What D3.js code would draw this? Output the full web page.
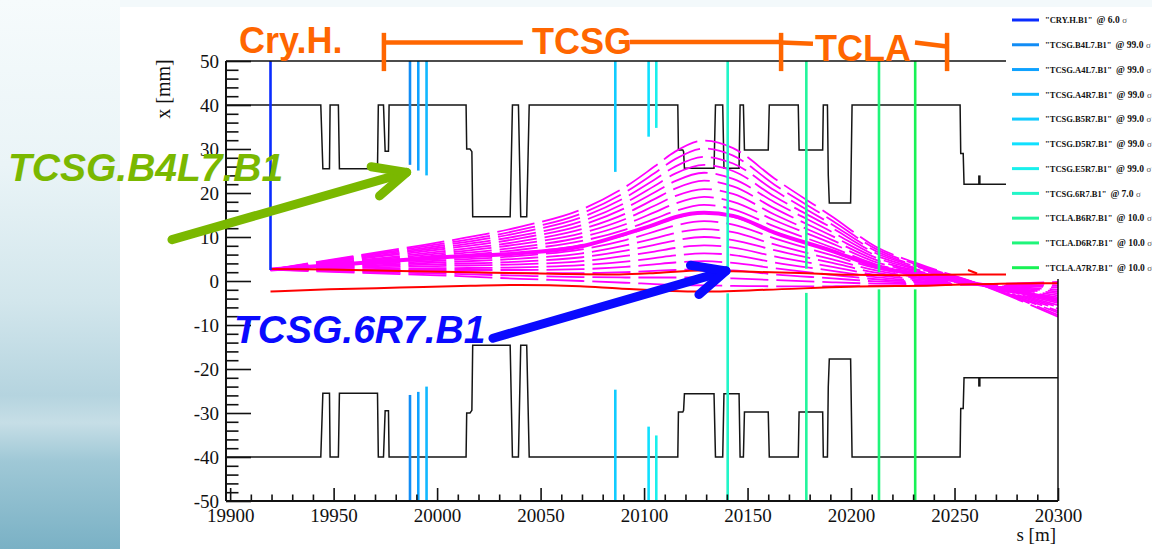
<!DOCTYPE html>
<html>
<head>
<meta charset="utf-8">
<script src="https://cdn.jsdelivr.net/npm/d3@7/dist/d3.min.js"></script>
<style>
  html, body { margin: 0; padding: 0; background: #ffffff; }
  svg { display: block; }
</style>
</head>
<body>
<svg id="chart" width="1152" height="549"></svg>
<script>
// ---------------- Mechanical aperture (half gap in mm) along s [m] ----------------
const apertureS = [19898, 19943.8, 19944.8, 19948.0, 19948.3, 19952.3, 19952.8, 19971.2, 19971.6, 19974.1,
  19974.9, 19976.5, 19976.8, 20014.0, 20014.3, 20015.9, 20016.8, 20017.2, 20035.3, 20036.4,
  20039.3, 20040.4, 20043.3, 20044.5, 20116.3, 20116.6, 20118.7, 20119.1, 20119.5, 20133.8,
  20134.5, 20138.0, 20138.6, 20145.9, 20146.4, 20148.0, 20148.5, 20160.0, 20160.5, 20174.5,
  20174.9, 20186.3, 20186.6, 20188.6, 20189.0, 20189.5, 20199.8, 20200.5, 20252.7, 20253.0,
  20254.2, 20254.6, 20300];
const apertureHalfGap = [40, 40, 25.5, 25.5, 40, 40, 25.5, 25.5, 40, 40,
  29.5, 29.5, 40, 40, 30, 30, 29.4, 14.6, 14.6, 40,
  40, 14.6, 14.6, 40, 40, 29.8, 29.8, 29.4, 25.6, 25.6,
  40, 40, 25.6, 25.6, 40, 40, 29.8, 29.8, 40, 40,
  29.8, 29.8, 40, 40, 24.1, 17.7, 17.7, 40, 40, 29.0,
  29.0, 22.0, 22.0];
const apertureSpike = [20262.0, 22.0, 24.0]; // s, base, tip

// ---------------- Collimators (legend order) ----------------
const collNames = ["CRY.H.B1", "TCSG.B4L7.B1", "TCSG.A4L7.B1", "TCSG.A4R7.B1", "TCSG.B5R7.B1",
  "TCSG.D5R7.B1", "TCSG.E5R7.B1", "TCSG.6R7.B1", "TCLA.B6R7.B1", "TCLA.D6R7.B1", "TCLA.A7R7.B1"];
const collSettings = ["6.0", "99.0", "99.0", "99.0", "99.0", "99.0", "99.0", "7.0", "10.0", "10.0", "10.0"];
const collS = [19919.5, 19986.9, 19990.9, 19994.9, 20086.1, 20102.2, 20105.9, 20140.4, 20178.4, 20213.5, 20231.0];
const collJawUp = [2.5, 26.4, 25.1, 24.0, 24.8, 32.8, 34.8, 2.9, 2.8, 2.0, 2.0];
const collJawDown = [null, -25.9, -25.2, -24.0, -24.7, -33.1, -35.1, -2.8, -2.7, -1.9, -1.9];
const collColors = ["#0a2cff", "#118cf5", "#0fa2ff", "#10b8ff", "#11ccff", "#10e0ff",
  "#19f0ec", "#22f5c8", "#22f59c", "#1ff57a", "#18f255"];

// ---------------- Trajectories leaving the crystal ----------------
const trackS = [19919.5, 19960, 20000, 20040, 20070, 20091, 20105, 20115, 20129, 20143, 20163, 20191, 20212, 20232, 20260, 20300];
const tracks = [
  [2.6, 1.9, 1.3, 0.5, 0.0, -0.4, -0.7, -0.9, -1.0, -1.1, -1.2, -1.2, -1.1, -1.0, -0.8, -0.2],
  [2.6, 2.1, 1.7, 1.2, 0.9, 0.8, 0.8, 0.8, 0.8, 0.6, 0.2, -0.3, -0.6, -0.7, -0.8, -0.6],
  [2.6, 2.3, 2.1, 1.8, 1.8, 2.0, 2.3, 2.5, 2.7, 2.4, 1.5, 0.6, -0.1, -0.4, -0.8, -1.1],
  [2.6, 2.5, 2.5, 2.5, 2.7, 3.2, 3.8, 4.2, 4.5, 4.1, 2.9, 1.4, 0.4, -0.2, -0.7, -1.5],
  [2.6, 2.7, 2.9, 3.1, 3.6, 4.4, 5.2, 5.8, 6.3, 5.9, 4.2, 2.3, 0.9, 0.1, -0.7, -2.0],
  [2.6, 3.0, 3.4, 3.8, 4.5, 5.7, 6.7, 7.5, 8.1, 7.6, 5.6, 3.2, 1.4, 0.4, -0.7, -2.4],
  [2.6, 3.2, 3.8, 4.4, 5.4, 6.9, 8.2, 9.2, 10.0, 9.3, 7.0, 4.1, 1.9, 0.7, -0.7, -2.8],
  [2.6, 3.4, 4.2, 5.1, 6.3, 8.1, 9.7, 10.9, 11.8, 11.1, 8.3, 4.9, 2.4, 0.9, -0.6, -3.3],
  [2.6, 3.6, 4.6, 5.7, 7.2, 9.3, 11.2, 12.6, 13.6, 12.8, 9.7, 5.8, 2.9, 1.2, -0.6, -3.7],
  [2.6, 3.8, 5.0, 6.4, 8.2, 10.5, 12.7, 14.3, 15.5, 14.6, 11.1, 6.7, 3.4, 1.5, -0.6, -4.2],
  [2.6, 4.0, 5.4, 7.1, 9.1, 11.7, 14.1, 15.9, 17.3, 16.3, 12.4, 7.6, 3.8, 1.8, -0.6, -4.6],
  [2.6, 4.2, 5.8, 7.7, 10.0, 12.9, 15.6, 17.6, 19.1, 18.0, 13.8, 8.5, 4.3, 2.1, -0.6, -5.0],
  [2.6, 4.4, 6.2, 8.4, 10.9, 14.1, 17.1, 19.3, 20.9, 19.8, 15.1, 9.3, 4.8, 2.3, -0.5, -5.5],
  [2.6, 4.6, 6.6, 9.0, 11.8, 15.3, 18.6, 21.0, 22.8, 21.5, 16.5, 10.2, 5.3, 2.6, -0.5, -5.9],
  [2.6, 4.9, 7.1, 9.7, 12.7, 16.6, 20.1, 22.7, 24.6, 23.2, 17.9, 11.1, 5.8, 2.9, -0.5, -6.3],
  [2.6, 5.1, 7.5, 10.3, 13.6, 17.8, 21.6, 24.4, 26.4, 25.0, 19.2, 12.0, 6.3, 3.2, -0.5, -6.8],
  [2.6, 5.3, 7.9, 11.0, 14.5, 19.0, 23.0, 26.0, 28.2, 26.7, 20.6, 12.8, 6.8, 3.4, -0.4, -7.2],
  [2.6, 5.5, 8.3, 11.6, 15.4, 20.2, 24.5, 27.7, 30.1, 28.5, 21.9, 13.7, 7.3, 3.7, -0.4, -7.7],
  [2.6, 5.7, 8.7, 12.3, 16.3, 21.4, 26.0, 29.4, 31.9, 30.2, 23.3, 14.6, 7.8, 4.0, -0.4, -8.1]
];
const centralTrack = [2.6, 4.0, 5.3, 6.3, 7.9, 10.7, 12.8, 14.5, 15.5, 14.8, 11.0, 6.8, 3.3, 1.5, -0.6, -4.3];

// ---------------- Beam envelope ----------------
const envUpS = [19919.5, 19948, 19982, 20016, 20050, 20088, 20108, 20127, 20143, 20175, 20199, 20224, 20256, 20275];
const envUpX = [2.7, 2.6, 2.3, 2.0, 1.7, 1.5, 1.9, 2.4, 2.2, 1.8, 1.4, 1.3, 1.5, 1.5];
const envLowS = [19919.5, 19948, 19982, 20016, 20040, 20069, 20088, 20127, 20159, 20199, 20240, 20272, 20300];
const envLowX = [-2.4, -1.9, -1.5, -1.1, -0.9, -1.2, -1.7, -2.4, -2.0, -1.3, -1.0, -0.6, -0.5];
const envKinkS = [20256.5, 20260.9];
const envKinkX = [2.5, 1.7];

// ---------------- Axis tick labels ----------------
const sTickLabels = [19900, 19950, 20000, 20050, 20100, 20150, 20200, 20250, 20300];
const xTickLabels = [-50, -40, -30, -20, -10, 0, 10, 20, 30, 40, 50];

// ---------------- Drawing ----------------
const SERIF = "'Liberation Serif', 'Times New Roman', serif";
const SANS = "'Liberation Sans', Arial, sans-serif";
const svg = d3.select("#chart");
const defs = svg.append("defs");

const grad = defs.append("linearGradient").attr("id", "sideGrad")
  .attr("x1", 0).attr("y1", 0).attr("x2", 0).attr("y2", 1);
[[0, "#f6fbfc"], [0.3, "#eaf4f7"], [0.55, "#d2e6ec"], [0.72, "#b5d4df"], [0.77, "#c6dee6"],
 [0.84, "#9fc8d6"], [1, "#7ab1c5"]].forEach(([o, c]) =>
  grad.append("stop").attr("offset", o).attr("stop-color", c));

svg.append("rect").attr("width", 1152).attr("height", 549).attr("fill", "#f3f9fb");
svg.append("rect").attr("x", 0).attr("y", 0).attr("width", 120).attr("height", 549).attr("fill", "url(#sideGrad)");
svg.append("rect").attr("x", 120).attr("y", 7).attr("width", 1032).attr("height", 542).attr("fill", "#ffffff");

const xS = d3.scaleLinear().domain([19898, 20300]).range([226, 1058]);
const yX = d3.scaleLinear().domain([-50, 50]).range([501, 61]);

defs.append("clipPath").attr("id", "frameClip").append("rect")
  .attr("x", xS(19898)).attr("y", yX(50)).attr("width", xS(20300) - xS(19898)).attr("height", yX(-50) - yX(50));

const plot = svg.append("g").attr("clip-path", "url(#frameClip)");
const straight = d3.line().x(d => xS(d[0])).y(d => yX(d[1]));
const smooth = d3.line().curve(d3.curveMonotoneX).x(d => xS(d[0])).y(d => yX(d[1]));

// aperture, upper and lower
const apUpper = apertureS.map((s, i) => [s, apertureHalfGap[i]]);
const apLower = apertureS.map((s, i) => [s, -apertureHalfGap[i]]);
[apUpper, apLower].forEach(pts => plot.append("path").attr("d", straight(pts))
  .attr("fill", "none").attr("stroke", "#151515").attr("stroke-width", 1.5));
[1, -1].forEach(sg => plot.append("line")
  .attr("x1", xS(apertureSpike[0])).attr("x2", xS(apertureSpike[0]))
  .attr("y1", yX(sg * apertureSpike[1])).attr("y2", yX(sg * apertureSpike[2]))
  .attr("stroke", "#151515").attr("stroke-width", 2.5));

// fan of dashed trajectories
tracks.forEach(t => plot.append("path")
  .attr("d", smooth(t.map((v, i) => [trackS[i], v])))
  .attr("fill", "none").attr("stroke", "#ff00ff").attr("stroke-width", 1.8)
  .attr("stroke-dasharray", "38,8"));
plot.append("path").attr("d", smooth(centralTrack.map((v, i) => [trackS[i], v])))
  .attr("fill", "none").attr("stroke", "#ff00ff").attr("stroke-width", 4);

// beam envelope
plot.append("path").attr("d", smooth(envUpS.map((s, i) => [s, envUpX[i]])))
  .attr("fill", "none").attr("stroke", "#ff0000").attr("stroke-width", 2);
plot.append("path").attr("d", smooth(envLowS.map((s, i) => [s, envLowX[i]])))
  .attr("fill", "none").attr("stroke", "#ff0000").attr("stroke-width", 2);
plot.append("path").attr("d", straight(envKinkS.map((s, i) => [s, envKinkX[i]])))
  .attr("fill", "none").attr("stroke", "#ff0000").attr("stroke-width", 2);

// collimator jaws
collS.forEach((s, i) => {
  plot.append("line").attr("x1", xS(s)).attr("x2", xS(s)).attr("y1", yX(50)).attr("y2", yX(collJawUp[i]))
    .attr("stroke", collColors[i]).attr("stroke-width", 2.6);
  if (collJawDown[i] !== null) {
    plot.append("line").attr("x1", xS(s)).attr("x2", xS(s)).attr("y1", yX(-50)).attr("y2", yX(collJawDown[i]))
      .attr("stroke", collColors[i]).attr("stroke-width", 2.6);
  }
});

// axes: ticks inside the frame
const tickStyle = g => g.call(a => a.select(".domain").remove())
  .call(a => a.selectAll("line").attr("stroke", "#111").attr("stroke-width", 1.6));
const sMinor = d3.range(19900, 20301, 10).filter(v => v % 50 !== 0);
const xMinor = d3.range(-48, 49, 2).filter(v => v % 10 !== 0);
svg.append("g").attr("transform", `translate(0,${yX(-50)})`)
  .call(d3.axisTop(xS).tickValues(sTickLabels).tickSize(13).tickFormat("")).call(tickStyle);
svg.append("g").attr("transform", `translate(0,${yX(-50)})`)
  .call(d3.axisTop(xS).tickValues(sMinor).tickSize(6.5).tickFormat("")).call(tickStyle);
svg.append("g").attr("transform", `translate(${xS(19898)},0)`)
  .call(d3.axisRight(yX).tickValues(xTickLabels).tickSize(25).tickFormat("")).call(tickStyle);
svg.append("g").attr("transform", `translate(${xS(19898)},0)`)
  .call(d3.axisRight(yX).tickValues(xMinor).tickSize(12.5).tickFormat("")).call(tickStyle);

// tick labels (plain hyphen for negatives)
const plain = d => String(d);
const sLab = svg.append("g").attr("transform", `translate(0,${yX(-50)})`)
  .call(d3.axisBottom(xS).tickValues(sTickLabels).tickSize(0).tickPadding(7.5).tickFormat(plain));
sLab.select(".domain").remove();
sLab.selectAll("text").attr("font-family", SERIF).attr("font-size", 19).attr("fill", "#111");
const xLab = svg.append("g").attr("transform", `translate(${xS(19898)},0)`)
  .call(d3.axisLeft(yX).tickValues(xTickLabels).tickSize(0).tickPadding(7).tickFormat(plain));
xLab.select(".domain").remove();
xLab.selectAll("text").attr("font-family", SERIF).attr("font-size", 19).attr("fill", "#111");

// frame
const frame = svg.append("g").attr("stroke", "#111").attr("fill", "none");
frame.append("line").attr("x1", xS(19898)).attr("x2", xS(20300)).attr("y1", yX(50)).attr("y2", yX(50)).attr("stroke-width", 1.5);
frame.append("line").attr("x1", xS(20300)).attr("x2", xS(20300)).attr("y1", yX(50)).attr("y2", yX(-50)).attr("stroke-width", 1.5);
frame.append("line").attr("x1", xS(19898)).attr("x2", xS(19898)).attr("y1", yX(50)).attr("y2", yX(-50)).attr("stroke-width", 2);
frame.append("line").attr("x1", xS(19898)).attr("x2", xS(20300)).attr("y1", yX(-50)).attr("y2", yX(-50)).attr("stroke-width", 2.2);

// axis titles
svg.append("text").attr("transform", `translate(170,89) rotate(-90)`).attr("text-anchor", "middle")
  .attr("font-family", SERIF).attr("font-size", 20).attr("fill", "#111").text("x [mm]");
svg.append("text").attr("x", 1056).attr("y", 541).attr("text-anchor", "end")
  .attr("font-family", SERIF).attr("font-size", 19).attr("fill", "#111").text("s [m]");

// legend
const legend = svg.append("g");
legend.append("rect").attr("x", 1006).attr("y", 7).attr("width", 146).attr("height", 272).attr("fill", "#ffffff");
collNames.forEach((name, i) => {
  const ly = 20 + i * 24.77;
  legend.append("line").attr("x1", 1012).attr("x2", 1039).attr("y1", ly).attr("y2", ly)
    .attr("stroke", collColors[i]).attr("stroke-width", 3);
  const t = legend.append("text").attr("x", 1045).attr("y", ly + 3.2)
    .attr("font-family", SERIF).attr("font-size", 8.5).attr("fill", "#111");
  t.append("tspan").attr("font-weight", "bold").text(`"${name}"`);
  t.append("tspan").attr("dx", 4).attr("font-weight", "bold").attr("font-size", 9.5).text(`@ ${collSettings[i]}`);
  t.append("tspan").attr("dx", 2.5).attr("font-size", 9).attr("fill", "#555").text("σ");
});

// section brackets above the frame
const ORANGE = "#ff6600";
const br = svg.append("g").attr("stroke", ORANGE).attr("stroke-width", 4.5).attr("fill", "none");
const brackets = [
  [[19974.3, 47.7], [19974.3, 56.4]],
  [[19974.3, 54.2], [20041.4, 54.2]],
  [[20093.2, 54.3], [20166.2, 54.3]],
  [[20166.2, 47.7], [20166.2, 56.4]],
  [[20166.2, 54.2], [20181.6, 53.9]],
  [[20230.9, 54.2], [20246.4, 53.3]],
  [[20246.4, 47.7], [20246.4, 56.4]]
];
brackets.forEach(seg => br.append("path").attr("d", straight(seg)));
const sectionLabels = [["Cry.H.", 19904.3, 51.8], ["TCSG", 20045.8, 51.6], ["TCLA", 20182.6, 50.0]];
sectionLabels.forEach(([txt, s, v]) => svg.append("text").attr("x", xS(s)).attr("y", yX(v))
  .attr("font-family", SANS).attr("font-weight", "bold").attr("font-size", 36).attr("fill", ORANGE).text(txt));

// callouts
function arrow(from, to, color) {
  const p0 = [xS(from[0]), yX(from[1])], p1 = [xS(to[0]), yX(to[1])];
  const ang = Math.atan2(p1[1] - p0[1], p1[0] - p0[0]) + Math.PI;
  const wing = 36, spread = 25 * Math.PI / 180;
  const w1 = [p1[0] + wing * Math.cos(ang - spread), p1[1] + wing * Math.sin(ang - spread)];
  const w2 = [p1[0] + wing * Math.cos(ang + spread), p1[1] + wing * Math.sin(ang + spread)];
  const g = svg.append("g").attr("stroke", color).attr("stroke-width", 9)
    .attr("stroke-linecap", "round").attr("stroke-linejoin", "round").attr("fill", "none");
  g.append("path").attr("d", d3.line()([p0, p1]));
  g.append("path").attr("d", d3.line()([w1, p1, w2]));
}
arrow([19871.9, 9.4], [19985.3, 24.7], "#7ab800");
arrow([20027.0, -13.0], [20139.6, 2.3], "#0a0aff");
svg.append("text").attr("x", 8).attr("y", 181)
  .attr("font-family", SANS).attr("font-weight", "bold").attr("font-style", "italic")
  .attr("font-size", 39).attr("fill", "#7ab800").text("TCSG.B4L7.B1");
svg.append("text").attr("x", 234).attr("y", 343)
  .attr("font-family", SANS).attr("font-weight", "bold").attr("font-style", "italic")
  .attr("font-size", 39).attr("fill", "#0a0aff").text("TCSG.6R7.B1");
</script>
</body>
</html>
